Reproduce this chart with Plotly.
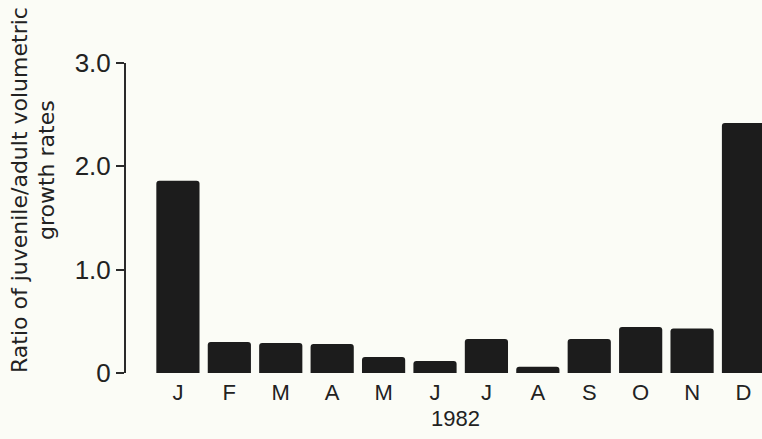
import plotly.graph_objects as go

# Monthly ratio of juvenile to adult volumetric growth rates, 1982
months = ["J", "F", "M", "A", "M", "J", "J", "A", "S", "O", "N", "D"]
ratios = [1.86, 0.30, 0.29, 0.28, 0.155, 0.115, 0.33, 0.06, 0.33, 0.445, 0.43, 2.42]
y_ticks = [0, 1, 2, 3]
y_tick_labels = ["0", "1.0", "2.0", "3.0"]
year_label = "1982"

bg = "#fbfcf6"
ink = "#1c1c1c"
text_color = "#222222"
font_family = "Liberation Sans, DejaVu Sans, sans-serif"
title_family = "DejaVu Sans, sans-serif"

x_idx = list(range(len(months)))

fig = go.Figure(
    go.Bar(
        x=x_idx,
        y=ratios,
        width=0.84,
        marker=dict(color=ink, line=dict(width=0), cornerradius=3),
    )
)

fig.update_layout(
    width=762,
    height=439,
    margin=dict(l=126, r=0, t=63, b=66),
    paper_bgcolor=bg,
    plot_bgcolor=bg,
    showlegend=False,
    font=dict(family=font_family, color=text_color, size=20),
    xaxis=dict(
        range=[-1.01, 11.36],
        tickmode="array",
        tickvals=x_idx,
        ticktext=months,
        showgrid=False,
        zeroline=False,
        showline=False,
        ticks="",
        ticklabelstandoff=4,
        tickfont=dict(size=22),
    ),
    yaxis=dict(
        range=[0, 3],
        tickmode="array",
        tickvals=y_ticks,
        ticktext=y_tick_labels,
        showgrid=False,
        zeroline=False,
        showline=True,
        linecolor="#2a2a2a",
        linewidth=2,
        ticks="outside",
        ticklen=8,
        tickwidth=2,
        tickcolor="#2a2a2a",
        tickfont=dict(size=26),
    ),
)

plot_w = 762 - 126
plot_h = 439 - 63 - 66

# Year caption under the month labels
fig.add_annotation(
    text=year_label,
    xref="paper", yref="paper",
    x=(455 - 126) / plot_w, y=(373 - 418) / plot_h,
    xanchor="center", yanchor="middle",
    showarrow=False,
    font=dict(size=22, family=font_family, color=text_color),
)

# Two-line y-axis title, rotated
fig.add_annotation(
    text="Ratio of juvenile/adult volumetric",
    xref="paper", yref="paper",
    x=(19 - 126) / plot_w, y=(373 - 190) / plot_h,
    xanchor="center", yanchor="middle",
    textangle=-90, showarrow=False,
    font=dict(size=22, family=title_family, color=text_color),
)
fig.add_annotation(
    text="growth rates",
    xref="paper", yref="paper",
    x=(46 - 126) / plot_w, y=(373 - 170) / plot_h,
    xanchor="center", yanchor="middle",
    textangle=-90, showarrow=False,
    font=dict(size=22, family=title_family, color=text_color),
)

fig.write_html("out.html")
